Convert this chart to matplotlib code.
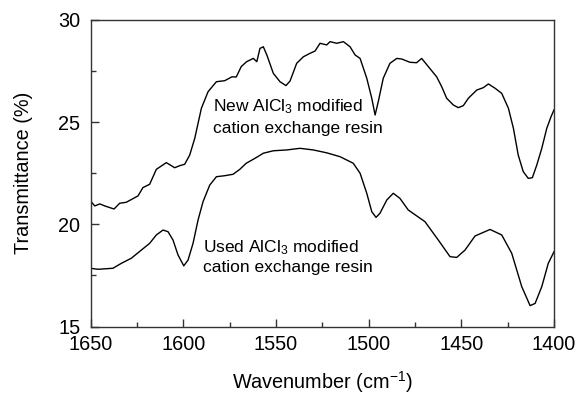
import matplotlib
matplotlib.use("Agg")
import matplotlib.pyplot as plt
from matplotlib.ticker import MultipleLocator

plt.rcParams['font.family'] = ['Liberation Sans', 'DejaVu Sans']
plt.rcParams['mathtext.fontset'] = 'custom'
plt.rcParams['mathtext.rm'] = 'Liberation Sans'
plt.rcParams['mathtext.it'] = 'Liberation Sans:italic'
plt.rcParams['mathtext.bf'] = 'Liberation Sans:bold'

# New AlCl3 modified resin spectrum
new_wn = [1650, 1647.7, 1645.0, 1642.3, 1637.3, 1634.3, 1630.7, 1624.4, 1621.7, 1618.1,
          1614.5, 1609.1, 1604.6, 1601.9, 1599.2, 1596.5, 1593.8, 1590.2, 1586.6, 1582.1,
          1577.6, 1573.7, 1571.4, 1568.7, 1565.8, 1562.2, 1560.3, 1558.6, 1556.8, 1554.9,
          1551.4, 1547.8, 1544.6, 1542.4, 1538.8, 1535.2, 1531.6, 1528.9, 1526.2, 1522.6,
          1520.8, 1517.2, 1513.6, 1510.0, 1507.3, 1504.6, 1501.0, 1498.3, 1496.5, 1494.8,
          1492.1, 1488.5, 1484.8, 1482.1, 1477.7, 1474.1, 1471.4, 1467.8, 1463.3, 1460.6,
          1457.9, 1454.3, 1451.6, 1448.9, 1446.2, 1441.7, 1438.1, 1435.4, 1431.8, 1428.2,
          1424.6, 1421.9, 1419.3, 1416.6, 1413.9, 1411.7, 1409.3, 1406.6, 1403.9, 1401.6, 1400]
new_t = [21.14, 20.9, 21.0, 20.9, 20.75, 21.03, 21.08, 21.39, 21.8, 21.96,
         22.69, 23.02, 22.77, 22.87, 22.94, 23.39, 24.2, 25.68, 26.49, 26.98,
         27.03, 27.22, 27.21, 27.72, 27.96, 28.12, 27.96, 28.61, 28.69, 28.29,
         27.39, 26.98, 26.79, 27.01, 27.88, 28.2, 28.37, 28.48, 28.86, 28.78,
         28.94, 28.86, 28.94, 28.69, 28.29, 28.12, 27.15, 26.17, 25.35, 26.0,
         27.15, 27.88, 28.12, 28.09, 27.93, 27.91, 28.12, 27.72, 27.22, 26.74,
         26.17, 25.84, 25.71, 25.81, 26.17, 26.57, 26.69, 26.87, 26.66, 26.41,
         25.68, 24.7, 23.39, 22.58, 22.25, 22.28, 22.9, 23.72, 24.7, 25.27, 25.6]

# Used AlCl3 modified resin spectrum
used_wn = [1650, 1646.0, 1637.9, 1633.4, 1628.0, 1622.6, 1618.1, 1614.5, 1610.9, 1608.2,
           1605.5, 1602.8, 1599.7, 1597.4, 1594.7, 1592.0, 1589.3, 1585.7, 1582.1, 1577.6,
           1573.1, 1569.5, 1566.0, 1561.3, 1556.8, 1551.4, 1544.2, 1537.0, 1529.8, 1522.6,
           1515.4, 1508.3, 1504.6, 1501.0, 1498.3, 1496.0, 1493.9, 1490.2, 1486.7, 1483.1,
           1478.6, 1469.6, 1462.4, 1456.1, 1452.5, 1448.0, 1442.6, 1434.5, 1428.2, 1422.8,
           1417.4, 1412.9, 1410.2, 1406.6, 1403.1, 1400]
used_t = [17.85, 17.80, 17.85, 18.09, 18.34, 18.74, 19.07, 19.48, 19.72, 19.64,
          19.23, 18.50, 17.97, 18.25, 19.07, 20.21, 21.11, 21.92, 22.33, 22.38,
          22.45, 22.69, 22.99, 23.23, 23.48, 23.6, 23.64, 23.72, 23.64, 23.5,
          23.31, 22.99, 22.5, 21.52, 20.62, 20.34, 20.54, 21.19, 21.52, 21.27,
          20.7, 20.13, 19.23, 18.42, 18.38, 18.74, 19.43, 19.75, 19.48, 18.58,
          16.95, 16.02, 16.13, 16.95, 18.09, 18.66]

x_ticks = [1650, 1600, 1550, 1500, 1450, 1400]
y_ticks = [15, 20, 25, 30]

fig = plt.figure(figsize=(5.78, 3.96), dpi=100)
ax = fig.add_axes([0.1566, 0.1755, 0.8019, 0.774])

ax.plot(new_wn, new_t, color='black', lw=1.0)
ax.plot(used_wn, used_t, color='black', lw=1.0)

ax.set_xlim(1650, 1400)
ax.set_ylim(15, 30)
ax.set_xticks(x_ticks)
ax.set_yticks(y_ticks)
ax.xaxis.set_minor_locator(MultipleLocator(25))
ax.yaxis.set_minor_locator(MultipleLocator(2.5))

spine_c = '#333333'
for s in ax.spines.values():
    s.set_color(spine_c)
    s.set_linewidth(1.0)

ax.tick_params(axis='both', which='major', direction='in', length=6, width=1.0,
               color=spine_c, labelsize=14.3, top=False, right=False)
ax.tick_params(axis='both', which='minor', direction='in', length=3.6, width=1.0,
               color=spine_c, top=False, right=False)
ax.tick_params(axis='y', which='major', pad=7.3)
ax.tick_params(axis='x', which='major', pad=5.8)

ax.set_xlabel('Wavenumber (cm$^{-1}$)', fontsize=14.3)
ax.set_ylabel('Transmittance (%)', fontsize=14.3)
ax.xaxis.set_label_coords(0.5, -0.140)
ax.yaxis.set_label_coords(-0.125, 0.5)

ax.text(1584.1, 25.55, 'New AlCl$_3$ modified', fontsize=12.5, ha='left', va='baseline')
ax.text(1584.1, 24.47, 'cation exchange resin', fontsize=12.5, ha='left', va='baseline')
ax.text(1589.5, 18.64, 'Used AlCl$_3$ modified', fontsize=12.5, ha='left', va='baseline')
ax.text(1589.5, 17.69, 'cation exchange resin', fontsize=12.5, ha='left', va='baseline')

fig.savefig('out.png', dpi=100)
